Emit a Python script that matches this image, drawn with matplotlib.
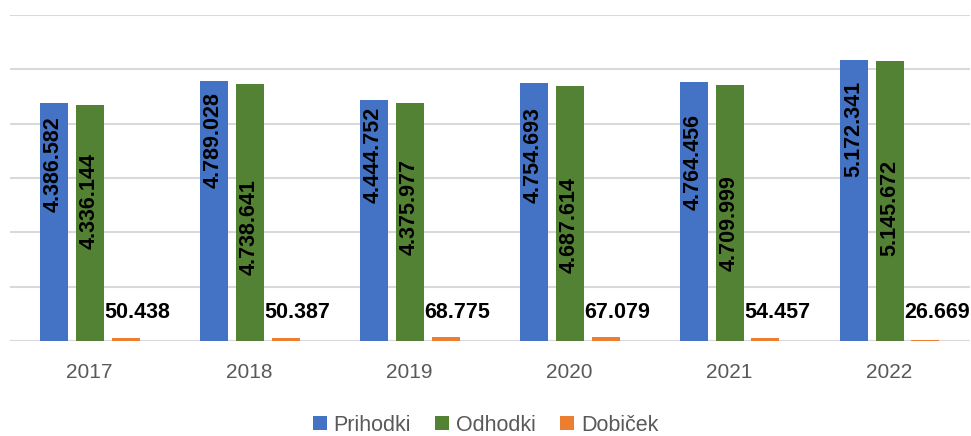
import matplotlib
matplotlib.use('Agg')
import matplotlib.pyplot as plt
import numpy as np

# data
years = ['2017', '2018', '2019', '2020', '2021', '2022']
prihodki = [4386582, 4789028, 4444752, 4754693, 4764456, 5172341]
odhodki = [4336144, 4738641, 4375977, 4687614, 4709999, 5145672]
dobicek = [50438, 50387, 68775, 67079, 54457, 26669]

# where the rotated labels sit (as in the original chart)
prih_label_y = [3.26e6, 3.70e6, 3.43e6, 3.43e6, 3.30e6, 3.90e6]
odh_label_y = [2.58e6, 2.09e6, 2.47e6, 2.14e6, 2.17e6, 2.45e6]

def fmt(v):
    return f'{v:,}'.replace(',', '.')

plt.rcParams['font.family'] = ['Liberation Sans', 'DejaVu Sans']

fig = plt.figure(figsize=(9.71, 4.36), dpi=100)
ax = fig.add_axes([9.5 / 971, 95 / 436, 960 / 971, 326 / 436])

x = np.arange(len(years))
w = 0.175
step = 0.225
blue, green, orange = '#4472c4', '#548235', '#ed7d31'

ax.bar(x - step, prihodki, w, color=blue, label='Prihodki', zorder=3)
ax.bar(x, odhodki, w, color=green, label='Odhodki', zorder=3)
ax.bar(x + step, dobicek, w, color=orange, label='Dobiček', zorder=3)

for i in range(len(years)):
    ax.text(x[i] - step, prih_label_y[i], fmt(prihodki[i]), rotation=90,
            ha='center', va='center', fontsize=15.5, fontweight='bold', zorder=4)
    ax.text(x[i], odh_label_y[i], fmt(odhodki[i]), rotation=90,
            ha='center', va='center', fontsize=15.5, fontweight='bold', zorder=4)
    ax.text(x[i] + step + 0.075, 0.52e6, fmt(dobicek[i]),
            ha='center', va='center', fontsize=15.5, fontweight='bold', zorder=4)

ax.set_xlim(-0.5, len(years) - 0.5)
ax.set_ylim(0, 6e6)
ax.set_yticks(np.arange(0, 6.1e6, 1e6))
ax.yaxis.grid(True, color='#d9d9d9', linewidth=1.5, zorder=0)
ax.set_yticklabels([])
ax.tick_params(axis='y', length=0)
ax.set_xticks(x)
ax.set_xticklabels(years, fontsize=15, color='#595959')
ax.tick_params(axis='x', length=0, pad=16)
for s in ax.spines.values():
    s.set_visible(False)

leg = fig.legend(loc='center', bbox_to_anchor=(0.5, 11 / 436), ncol=3, frameon=False,
                 fontsize=15.5, handlelength=0.65, handleheight=0.65, handletextpad=0.3,
                 columnspacing=1.15)
for t in leg.get_texts():
    t.set_color('#595959')

plt.savefig('out.png', dpi=100)
